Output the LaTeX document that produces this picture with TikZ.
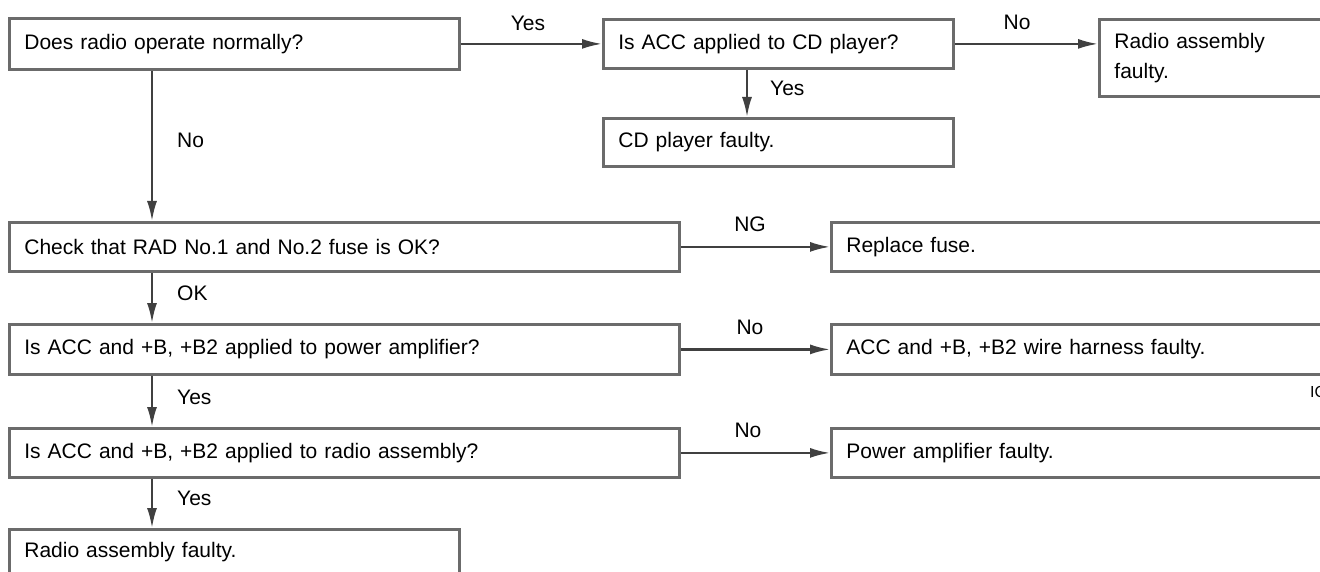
\documentclass[tikz,border=0pt]{standalone}
\usepackage{fontspec}
\setmainfont{Liberation Sans}
\usetikzlibrary{arrows.meta}
\definecolor{boxgray}{gray}{0.42}
\definecolor{linegray}{gray}{0.25}
\begin{document}
\begin{tikzpicture}[x=1pt,y=-1pt,
  box/.style={draw=boxgray, line width=2.8pt, anchor=north west, inner xsep=15pt, inner ysep=0pt, align=left, font=\fontsize{21}{30}\selectfont},
  lbl/.style={font=\fontsize{21}{25}\selectfont, inner sep=0pt},
  arr/.style={draw=linegray, line width=2.2pt, -{Latex[length=20pt,width=10pt]}}]
\clip (0,0) rectangle (1320,572);
\fill[white] (0,0) rectangle (1320,572);
% boxes
\node[box, text width=420pt, minimum height=51pt] (b1) at (8,17) {Does radio operate normally?};
\node[box, text width=320pt, minimum height=49pt] (b2) at (602,18) {Is ACC applied to CD player?};
\node[box, text width=217pt, minimum height=77pt] (b3) at (1098,18) {Radio assembly\\faulty.};
\node[box, text width=320pt, minimum height=48pt] (b4) at (602,117) {CD player faulty.};
\node[box, text width=640pt, minimum height=49pt] (b5) at (8,221) {Check that RAD No.1 and No.2 fuse is OK?};
\node[box, text width=485pt, minimum height=49pt] (b6) at (830,221) {Replace fuse.};
\node[box, text width=640pt, minimum height=50pt] (b7) at (8,323) {Is ACC and +B, +B2 applied to power amplifier?};
\node[box, text width=485pt, minimum height=50pt] (b8) at (830,323) {ACC and +B, +B2 wire harness faulty.};
\node[box, text width=640pt, minimum height=49pt] (b9) at (8,427) {Is ACC and +B, +B2 applied to radio assembly?};
\node[box, text width=485pt, minimum height=49pt] (b10) at (830,427) {Power amplifier faulty.};
\node[box, text width=420pt, minimum height=46pt] (b11) at (8,528) {Radio assembly faulty.};
% guide coordinates
\coordinate (vx) at (152,0);
\coordinate (vy) at (747,0);
% connectors
\draw[arr] (b1.east) -- (b2.west);
\draw[arr] (b2.east) -- (b2.east -| b3.west);
\draw[arr] (b2.south -| vy) -- (b4.north -| vy);
\draw[arr] (b1.south -| vx) -- (b5.north -| vx);
\draw[arr] (b5.east) -- (b6.west);
\draw[arr] (b5.south -| vx) -- (b7.north -| vx);
\draw[arr] (b7.east) -- (b8.west);
\draw[arr] (b7.south -| vx) -- (b9.north -| vx);
\draw[arr] (b9.east) -- (b10.west);
\draw[arr] (b9.south -| vx) -- (b11.north -| vx);
% labels
\node[lbl] (l1) at (528,23) {Yes};
\node[lbl] (l2) at (1017,22) {No};
\node[lbl, anchor=west] (l3) at (770,88) {Yes};
\node[lbl, anchor=west] (l4) at (177,140) {No};
\node[lbl] (l5) at (750,224) {NG};
\node[lbl, anchor=west] (l6) at (177,293) {OK};
\node[lbl] (l7) at (750,327) {No};
\node[lbl, anchor=west] (l8) at (177,397) {Yes};
\node[lbl] (l9) at (748,430) {No};
\node[lbl, anchor=west] (l10) at (177,498) {Yes};
\node[font=\fontsize{16}{18}\selectfont, anchor=west, inner sep=0pt] (code) at (1310,392) {IC};
\end{tikzpicture}
\end{document}
